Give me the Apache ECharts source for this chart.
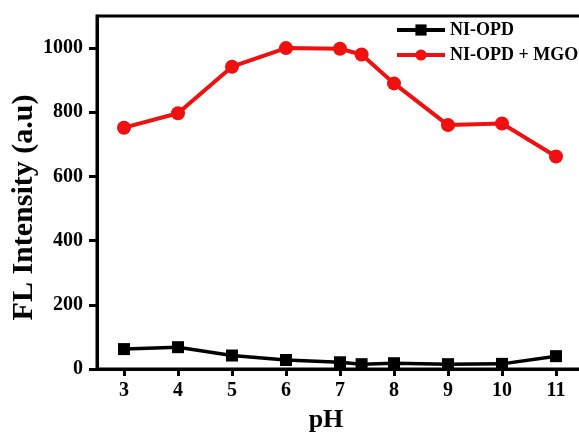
<!DOCTYPE html>
<html>
<head>
<meta charset="utf-8">
<script src="https://cdn.jsdelivr.net/npm/echarts@6/dist/echarts.min.js"></script>
<style>
  html, body { margin: 0; padding: 0; background: #fff; }
  #chart { width: 579px; height: 432px; }
</style>
</head>
<body>
<div id="chart"></div>
<script>
// pH values measured
const phValues = [3, 4, 5, 6, 7, 7.4, 8, 9, 10, 11];
// Fluorescence intensity of the probe alone
const opdValues = [62, 68, 42, 28, 21, 15, 18, 15, 16, 40];
// Fluorescence intensity with methylglyoxal added
const mgoValues = [752, 797, 942, 1000, 998, 980, 890, 760, 765, 662];
// Axis tick positions
const xTicks = [3, 4, 5, 6, 7, 8, 9, 10, 11];
const yTicks = [0, 200, 400, 600, 800, 1000];

const FONT = "'Liberation Serif', 'Times New Roman', serif";

const chart = echarts.init(document.getElementById('chart'), null, { renderer: 'canvas' });

const pairs = (ys) => phValues.map((x, i) => [x, ys[i]]);

chart.setOption({
  backgroundColor: '#fff',
  animation: false,
  grid: {
    left: 97, top: 16, width: 486, bottom: 63,
    containLabel: false,
    outerBoundsMode: 'none',
    show: true, borderColor: '#000', borderWidth: 3
  },
  legend: {
    orient: 'vertical',
    left: 395, top: 21,
    padding: 0,
    itemWidth: 48, itemHeight: 14, itemGap: 7,
    lineStyle: { width: 4 },
    textStyle: { fontFamily: FONT, fontWeight: 'bold', fontSize: 18, color: '#000' },
    data: ['NI-OPD', 'NI-OPD + MGO']
  },
  xAxis: {
    type: 'value',
    min: 2.5, max: 11.5,
    name: 'pH',
    nameLocation: 'middle',
    nameGap: 38,
    nameMoveOverlap: false,
    nameTextStyle: { fontFamily: FONT, fontWeight: 'bold', fontSize: 26, color: '#000', padding: [0, 28, 0, 0] },
    axisLine: { lineStyle: { color: '#000', width: 3 } },
    axisTick: { customValues: xTicks, length: 7, lineStyle: { color: '#000', width: 3 } },
    axisLabel: { customValues: xTicks, margin: 12, fontFamily: FONT, fontWeight: 'bold', fontSize: 20, color: '#000' },
    splitLine: { show: false }
  },
  yAxis: {
    type: 'value',
    min: 0, max: 1100,
    name: 'FL Intensity (a.u)',
    nameLocation: 'middle',
    nameGap: 58,
    nameMoveOverlap: false,
    nameTextStyle: { fontFamily: FONT, fontWeight: 'bold', fontSize: 30, color: '#000', padding: [0, 30, 0, 0] },
    axisLine: { lineStyle: { color: '#000', width: 3 } },
    axisTick: { customValues: yTicks, length: 8, lineStyle: { color: '#000', width: 3 } },
    axisLabel: {
      customValues: yTicks, margin: 14,
      formatter: (v) => String(v),
      fontFamily: FONT, fontWeight: 'bold', fontSize: 20, color: '#000'
    },
    splitLine: { show: false }
  },
  series: [
    {
      name: 'NI-OPD',
      type: 'line',
      data: pairs(opdValues),
      symbol: 'rect',
      symbolSize: 12,
      lineStyle: { color: '#000', width: 3.5 },
      itemStyle: { color: '#000' },
      z: 3
    },
    {
      name: 'NI-OPD + MGO',
      type: 'line',
      data: pairs(mgoValues),
      symbol: 'circle',
      symbolSize: 14,
      lineStyle: { color: '#f01010', width: 4 },
      itemStyle: { color: '#f01010' },
      z: 4
    }
  ]
});
</script>
</body>
</html>
